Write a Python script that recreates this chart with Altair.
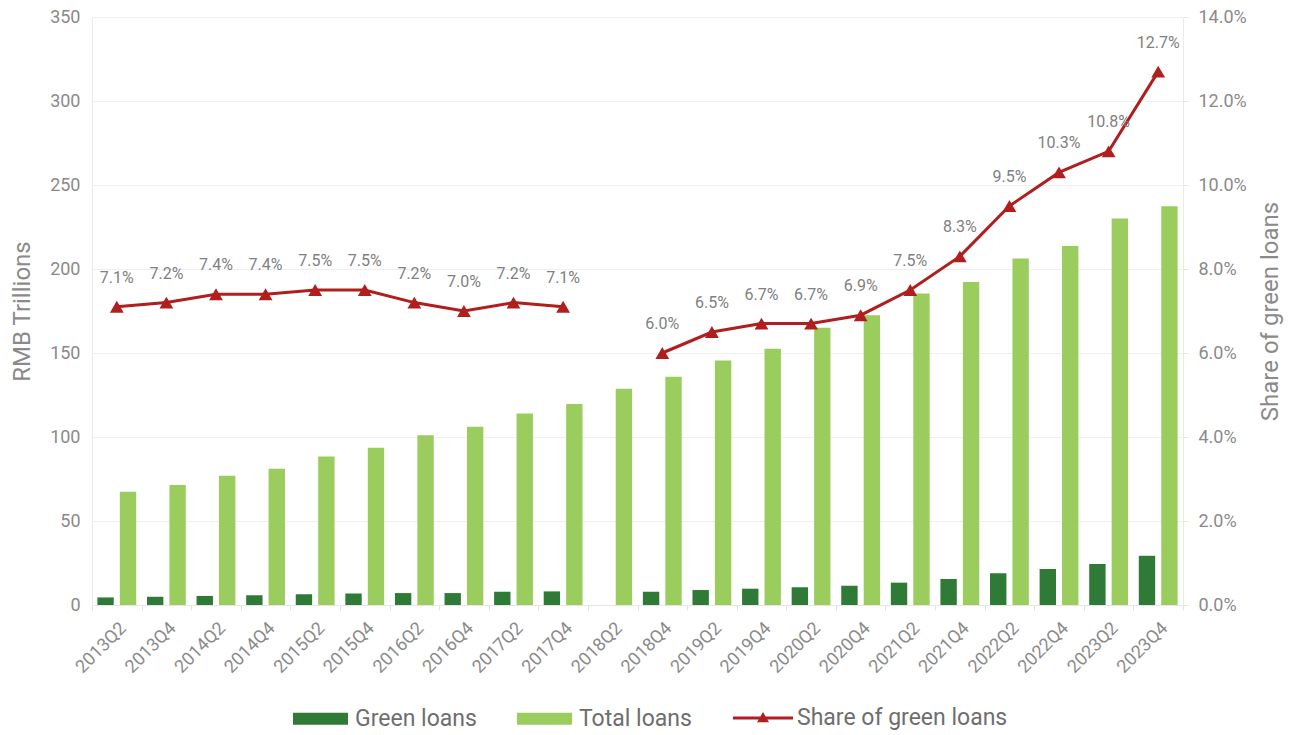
import altair as alt
import pandas as pd

quarters = ["2013Q2", "2013Q4", "2014Q2", "2014Q4", "2015Q2", "2015Q4", "2016Q2", "2016Q4",
            "2017Q2", "2017Q4", "2018Q2", "2018Q4", "2019Q2", "2019Q4", "2020Q2", "2020Q4",
            "2021Q2", "2021Q4", "2022Q2", "2022Q4", "2023Q2", "2023Q4"]
green_loans = [4.5, 4.9, 5.4, 5.8, 6.4, 6.8, 7.1, 7.1, 7.9, 8.1, None, 7.9,
               8.9, 9.7, 10.5, 11.4, 13.3, 15.5, 18.9, 21.4, 24.4, 29.3]
total_loans = [67.4, 71.4, 76.9, 81.1, 88.4, 93.6, 101.0, 106.1, 114.0, 119.6, 128.7, 135.8,
               145.6, 152.5, 165.0, 172.5, 185.4, 192.3, 206.2, 213.7, 230.0, 237.4]
share_pct = [7.1, 7.2, 7.4, 7.4, 7.5, 7.5, 7.2, 7.0, 7.2, 7.1, None, 6.0,
             6.5, 6.7, 6.7, 6.9, 7.5, 8.3, 9.5, 10.3, 10.8, 12.7]

S_GREEN = "Green loans"
S_TOTAL = "Total loans"
S_SHARE = "Share of green loans"
bar_series = [S_GREEN, S_TOTAL]
bar_colors = ["#2f7a37", "#9bcd5e"]
share_color = "#b01e1e"

FONT = "Roboto"
GRAY = "#8a8a8a"

# long table for bars
bar_rows = []
for q, g, t in zip(quarters, green_loans, total_loans):
    if g is not None:
        bar_rows.append({"quarter": q, "series": S_GREEN, "value": g})
    if t is not None:
        bar_rows.append({"quarter": q, "series": S_TOTAL, "value": t})
bars_df = pd.DataFrame(bar_rows)

# share table, split into segments at missing values
share_rows = []
seg = 0
for q, s in zip(quarters, share_pct):
    if s is None:
        seg += 1
        continue
    share_rows.append({"quarter": q, "series": S_SHARE, "share": s / 100.0,
                       "segment": seg})
share_df = pd.DataFrame(share_rows)

x_scale = alt.Scale(domain=quarters, paddingInner=0, paddingOuter=0)
x_axis = alt.Axis(title=None, labelAngle=315, labelFont=FONT, labelFontSize=18,
                  labelColor=GRAY, labelPadding=9, tickBand="extent",
                  ticks=True, tickSize=5, tickColor="#e6dde2",
                  domainColor="#e6e6e6", grid=False)

bars = alt.Chart(bars_df).mark_bar().encode(
    x=alt.X("quarter:N", sort=quarters, scale=x_scale, axis=x_axis),
    xOffset=alt.XOffset("series:N", sort=bar_series,
                        scale=alt.Scale(paddingInner=0.27, paddingOuter=0.24)),
    y=alt.Y("value:Q", scale=alt.Scale(domain=[0, 350]),
            axis=alt.Axis(title="RMB Trillions", values=list(range(0, 351, 50)),
                          labelFont=FONT, labelFontSize=18, labelColor=GRAY,
                          labelPadding=12, ticks=False, titleFont=FONT,
                          titleFontSize=24, titleFontWeight="normal", titleColor=GRAY,
                          titlePadding=15, gridColor="#efefef", domainColor="#ebebe3")),
    color=alt.Color("series:N", scale=alt.Scale(domain=bar_series, range=bar_colors),
                    legend=alt.Legend(title=None, orient="none", direction="horizontal",
                                      legendX=201, legendY=674,
                                      labelFont=FONT, labelFontSize=23, labelLimit=400,
                                      labelColor="#6e6e6e", symbolSize=3025,
                                      symbolType="M-1,-0.22H1V0.22H-1Z",
                                      symbolStrokeWidth=0,
                                      labelOffset=7, columnPadding=40)),
)

share_y_axis = alt.Axis(orient="right", title="Share of green loans", format=".1%",
                        values=[0, 0.02, 0.04, 0.06, 0.08, 0.10, 0.12, 0.14],
                        labelFont=FONT, labelFontSize=18, labelColor=GRAY,
                        labelPadding=10, ticks=True, tickSize=5, tickColor="#e6e6e6",
                        titleFont=FONT, titleFontSize=24, titleFontWeight="normal",
                        titleColor=GRAY, titleAngle=270, titlePadding=36, grid=False,
                        domainColor="#ebebe3")
share_scale = alt.Scale(domain=[0, 0.14])
share_color_scale = alt.Scale(domain=[S_SHARE], range=[share_color])

line = alt.Chart(share_df).mark_line(strokeWidth=3, color=share_color).encode(
    x=alt.X("quarter:N", sort=quarters, scale=x_scale, axis=x_axis),
    y=alt.Y("share:Q", scale=share_scale, axis=share_y_axis),
    detail="segment:N",
)
points = alt.Chart(share_df).mark_point(shape="triangle-up", filled=True, size=190,
                                        opacity=1).encode(
    x=alt.X("quarter:N", sort=quarters, scale=x_scale, axis=x_axis),
    y=alt.Y("share:Q", scale=share_scale, axis=share_y_axis),
    color=alt.Color("series:N", scale=share_color_scale,
                    legend=alt.Legend(title=None, orient="none", direction="horizontal",
                                      legendX=641, legendY=671,
                                      labelFont=FONT, labelFontSize=23, labelLimit=400,
                                      labelColor="#6e6e6e", symbolSize=3600,
                                      symbolType="M-1,-0.05H1V0.05H-1Z M-0.2,0.14L0,-0.2L0.2,0.14Z",
                                      symbolStrokeWidth=0, symbolOpacity=1,
                                      labelOffset=4)),
)
labels = alt.Chart(share_df).mark_text(dy=-29, font=FONT, fontSize=16,
                                       color="#808080").encode(
    x=alt.X("quarter:N", sort=quarters, scale=x_scale, axis=x_axis),
    y=alt.Y("share:Q", scale=share_scale, axis=share_y_axis),
    text=alt.Text("share:Q", format=".1%"),
)

share_layer = alt.layer(line, points, labels)

chart = alt.layer(bars, share_layer).resolve_scale(
    y="independent", color="independent"
).properties(
    width=1091, height=588,
    padding={"left": 10, "top": 8, "right": 5, "bottom": 5},
    background="white",
).configure_view(stroke="transparent")

chart.save("out.html", embed_options={"renderer": "svg", "actions": False})
